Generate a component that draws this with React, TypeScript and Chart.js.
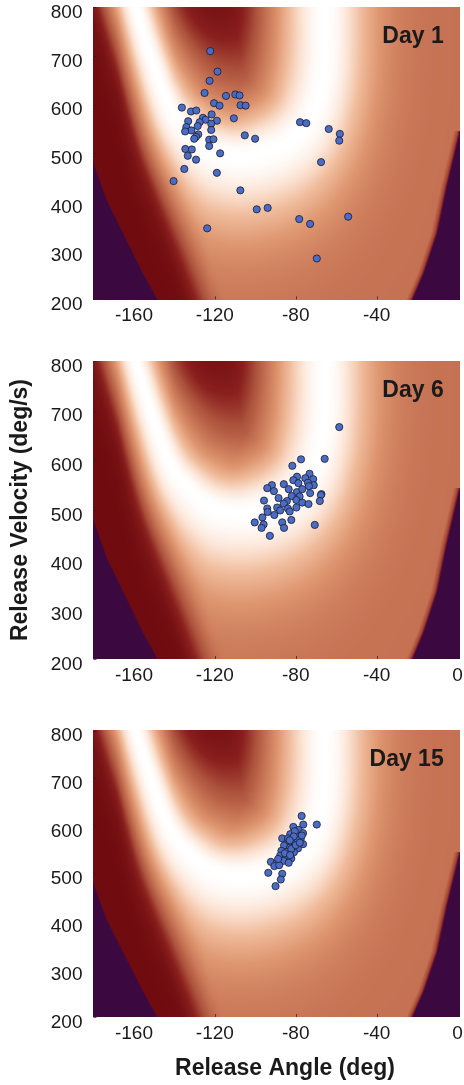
import React, { useEffect, useRef } from "react";
import { Chart, registerables } from "chart.js";
Chart.register(...registerables);

// ---------------- data ----------------
const X_TICKS_DAY1 = [-160, -120, -80, -40];
const X_TICKS = [-160, -120, -80, -40, 0];
const Y_TICKS = [200, 300, 400, 500, 600, 700, 800];

const DAY1_ANGLE = [-122.3, -118.7, -122.6, -125.1, -114.5, -109.9, -107.8, -107.3, -104.8, -120.4,
  -117.7, -136.3, -131.8, -129.2, -121.6, -125.9, -124.6, -119.0, -133.2, -110.6,
  -127.5, -121.8, -134.1, -128.5, -131.6, -134.7, -121.8, -128.2, -129.3, -130.2,
  -122.8, -120.7, -105.2, -100.1, -122.8, -134.6, -131.4, -117.4, -133.4, -129.3,
  -135.1, -119.0, -140.4, -107.4, -99.3, -93.9, -123.8, -77.9, -74.8, -63.7,
  -58.2, -58.5, -67.5, -78.3, -72.9, -54.1, -69.6];
const DAY1_VELOCITY = [710, 668, 649, 624, 618, 621, 619, 599, 598, 603,
  598, 594, 586, 588, 580, 573, 569, 567, 566, 572,
  564, 561, 554, 556, 547, 545, 548, 539, 534, 530,
  528, 529, 537, 530, 515, 509, 508, 500, 495, 487,
  468, 460, 443, 424, 385, 388, 346, 564, 562, 550,
  540, 526, 482, 365, 355, 370, 284];

const DAY6_ANGLE = [-58.5, -65.7, -77.4, -81.7, -73.2, -79.4, -75.3, -71.4, -74.0, -81.2,
  -78.7, -71.1, -73.5, -91.8, -85.9, -94.1, -90.8, -83.5, -79.5, -76.8,
  -67.3, -67.6, -72.9, -88.5, -82.0, -78.1, -79.7, -84.4, -76.8, -85.9,
  -95.7, -73.7, -68.1, -89.2, -83.9, -79.7, -94.1, -87.7, -83.0, -93.9,
  -90.6, -96.5, -100.3, -95.9, -86.7, -82.2, -85.8, -70.6, -92.8, -96.9];
const DAY6_VELOCITY = [667, 603, 602, 589, 573, 567, 564, 562, 555, 560,
  554, 550, 548, 550, 552, 544, 538, 542, 536, 542,
  532, 530, 534, 524, 528, 527, 520, 518, 515, 513,
  519, 512, 518, 505, 503, 505, 503, 499, 497, 496,
  490, 485, 475, 471, 475, 480, 464, 470, 448, 464];

const DAY15_ANGLE = [-77.1, -69.6, -76.3, -81.2, -78.6, -76.4, -82.7, -79.7, -86.7, -77.6,
  -84.1, -80.9, -76.4, -85.8, -82.8, -78.9, -87.1, -84.4, -80.9, -87.7,
  -84.8, -82.2, -86.1, -92.3, -89.3, -83.5, -90.6, -88.2, -93.6, -86.7,
  -87.4, -90.0, -80.5, -83.8, -82.2, -85.4, -88.7, -82.8,
  -79.0, -81.0, -77.0, -80.0, -78.0, -83.0];
const DAY15_VELOCITY = [621, 603, 603, 598, 592, 585, 583, 579, 574, 572,
  567, 564, 562, 559, 555, 553, 548, 546, 545, 538,
  535, 532, 527, 525, 523, 523, 516, 518, 502, 500,
  488, 474, 589, 574, 552, 543, 531, 539,
  570, 578, 580, 560, 565, 570];

// white ridge of the background landscape (angle, velocity)
const RIDGE_ANGLE = [-163, -158.9, -151.5, -142.5, -133, -122, -108, -92, -80, -72, -67.5, -65.5, -65.5];
const RIDGE_VELOCITY = [860, 800, 700, 600, 546, 510, 496, 508, 535, 575, 630, 700, 830];
// darkest spot inside the ridge
const DARK_SPOT_ANGLE = -126;
const DARK_SPOT_VELOCITY = 810;
// purple (out of range) boundaries
const LEFT_EDGE_ANGLE = [-181, -173.5, -163.7, -155.6, -148.3, -140];
const LEFT_EDGE_VELOCITY = [492, 404, 322, 254, 199, 100];
const RIGHT_EDGE_ANGLE = [1, -5.5, -10.3, -16.9, -22.6, -30];
const RIGHT_EDGE_VELOCITY = [545, 432, 336, 254, 199, 100];

const CMAP_POS = [0, 0.15, 0.3, 0.45, 0.65, 0.8, 0.92, 1];
const CMAP_RGB = [[112, 12, 16], [138, 32, 30], [172, 82, 60], [196, 112, 82], [222, 150, 112], [240, 188, 156], [252, 230, 216], [255, 255, 255]];
const PURPLE = [60, 8, 64];

// ---------------- background helpers ----------------
const KX = 2.04; // px per degree
const KY = 0.487; // px per deg/s

const clamp = (t: number) => (t < 0 ? 0 : t > 1 ? 1 : t);
const smooth = (t: number) => t * t * (3 - 2 * t);
const lerp = (a: number, b: number, t: number) => a + (b - a) * t;

function buildRidge(): number[][] {
  const P = RIDGE_ANGLE.map((a, i) => [a * KX, RIDGE_VELOCITY[i] * KY]);
  const out: number[][] = [];
  for (let i = 0; i < P.length - 1; i++) {
    const p0 = P[Math.max(0, i - 1)], p1 = P[i], p2 = P[i + 1], p3 = P[Math.min(P.length - 1, i + 2)];
    for (let k = 0; k < 24; k++) {
      const t = k / 24, t2 = t * t, t3 = t2 * t;
      const f = (j: number) => 0.5 * (2 * p1[j] + (-p0[j] + p2[j]) * t + (2 * p0[j] - 5 * p1[j] + 4 * p2[j] - p3[j]) * t2 + (-p0[j] + 3 * p1[j] - 3 * p2[j] + p3[j]) * t3);
      out.push([f(0), f(1)]);
    }
  }
  out.push(P[P.length - 1]);
  return out;
}
const RIDGE = buildRidge();

function inPoly(x: number, y: number, poly: number[][]) {
  let inside = false;
  for (let i = 0, j = poly.length - 1; i < poly.length; j = i++) {
    const xi = poly[i][0], yi = poly[i][1], xj = poly[j][0], yj = poly[j][1];
    if ((yi > y) !== (yj > y) && x < ((xj - xi) * (y - yi)) / (yj - yi) + xi) inside = !inside;
  }
  return inside;
}

function edgeAt(angles: number[], vels: number[], v: number): number | null {
  if (v > vels[0]) return null;
  for (let i = 0; i < vels.length - 1; i++) {
    if (v <= vels[i] && v >= vels[i + 1]) {
      const t = (vels[i] - v) / (vels[i] - vels[i + 1]);
      return angles[i] + (angles[i + 1] - angles[i]) * t;
    }
  }
  const n = vels.length - 1;
  const t = (vels[n - 1] - v) / (vels[n - 1] - vels[n]);
  return angles[n - 1] + (angles[n] - angles[n - 1]) * t;
}

function cmap(s: number): number[] {
  s = clamp(s);
  for (let i = 0; i < CMAP_POS.length - 1; i++) {
    if (s <= CMAP_POS[i + 1]) {
      const t = (s - CMAP_POS[i]) / (CMAP_POS[i + 1] - CMAP_POS[i]);
      return [0, 1, 2].map((j) => CMAP_RGB[i][j] + (CMAP_RGB[i + 1][j] - CMAP_RGB[i][j]) * t);
    }
  }
  return CMAP_RGB[CMAP_RGB.length - 1];
}

function fieldValue(a: number, v: number): number {
  const X = a * KX, Y = v * KY;
  let best = 1e18, bestA = 1e18;
  for (let i = 0; i < RIDGE.length; i++) {
    const dx = X - RIDGE[i][0], dy = Y - RIDGE[i][1];
    const dxx = dx * dx;
    const d2 = dxx + dy * dy;
    const d2a = dxx + 0.36 * dy * dy;
    if (d2 < best) best = d2;
    if (d2a < bestA) bestA = d2a;
  }
  if (inPoly(X, Y, RIDGE)) {
    const d = Math.sqrt(best);
    const ds = Math.hypot((a - DARK_SPOT_ANGLE) * KX, (v - DARK_SPOT_VELOCITY) * KY);
    const bin = 0.42 * smooth(clamp(ds / 140));
    const wi = lerp(31, 62, clamp((a + 140) / 55));
    return bin + (1 - bin) * Math.exp(-(d / wi) * (d / wi));
  }
  const d = Math.sqrt(bestA);
  const aL = -140 - 0.075 * (v - 200);
  const B = 0.46 * smooth(clamp((a - aL - 2) / 24));
  const wo = lerp(24, 53, clamp((a + 168) / 45));
  return B + (1 - B) * Math.exp(-(d / wo) * (d / wo));
}

function pixelColor(a: number, v: number): number[] {
  const le = edgeAt(LEFT_EDGE_ANGLE, LEFT_EDGE_VELOCITY, v);
  const re = edgeAt(RIGHT_EDGE_ANGLE, RIGHT_EDGE_VELOCITY, v);
  const dl = le === null ? 1e9 : (a - le) * KX;
  const dr = re === null ? 1e9 : (re - a) * KX;
  const m = Math.min(dl, dr);
  if (m < -1) return PURPLE;
  let s = fieldValue(a, v);
  if (m < 6) s *= 0.35 + 0.65 * clamp(m / 6);
  let c = cmap(s);
  if (m < 1) {
    const t = clamp((1 - m) / 2);
    c = c.map((x, j) => x + (PURPLE[j] - x) * t);
  }
  return c;
}

const FONT_FAMILY = '"Liberation Sans", Arial, sans-serif';

const fieldPlugin = {
  id: "field",
  beforeDatasetsDraw(chart: any) {
    const { ctx, chartArea: ca, scales } = chart;
    const L = Math.floor(ca.left), T = Math.floor(ca.top);
    const W = Math.ceil(ca.right) - L, H = Math.ceil(ca.bottom) - T;
    if (!chart._fieldImg) {
      const img = ctx.createImageData(W, H);
      const angles = new Float64Array(W);
      for (let i = 0; i < W; i++) angles[i] = scales.x.getValueForPixel(L + i + 0.5);
      for (let j = 0; j < H; j++) {
        const v = scales.y.getValueForPixel(T + j + 0.5);
        for (let i = 0; i < W; i++) {
          const c = pixelColor(angles[i], v);
          const k = (j * W + i) * 4;
          img.data[k] = c[0]; img.data[k + 1] = c[1]; img.data[k + 2] = c[2]; img.data[k + 3] = 255;
        }
      }
      chart._fieldImg = img;
    }
    ctx.putImageData(chart._fieldImg, L, T);
  },
  afterDatasetsDraw(chart: any) {
    const { ctx, chartArea: ca, scales } = chart;
    const opts = chart.options.plugins.field;
    ctx.save();
    ctx.strokeStyle = "rgba(30,30,30,0.7)";
    ctx.lineWidth = 1;
    ctx.beginPath();
    for (const t of scales.y.ticks) {
      const py = Math.round(scales.y.getPixelForValue(t.value)) + 0.5;
      ctx.moveTo(ca.left, py); ctx.lineTo(ca.left + 3, py);
    }
    for (const t of scales.x.ticks) {
      const px = Math.round(scales.x.getPixelForValue(t.value)) + 0.5;
      ctx.moveTo(px, ca.bottom); ctx.lineTo(px, ca.bottom - 3);
    }
    ctx.stroke();
    ctx.font = `bold 23px ${FONT_FAMILY}`;
    ctx.fillStyle = "#1a1a1a";
    ctx.textAlign = "right";
    ctx.textBaseline = "alphabetic";
    ctx.fillText(opts.label, ca.right - 15.5, ca.top + 35.5);
    if (opts.xTitle) {
      ctx.textAlign = "center";
      ctx.fillText(opts.xTitle, 285, ca.bottom + 58);
    }
    ctx.restore();
  },
};

const TICK_FONT = { family: FONT_FAMILY, size: 19 };
const TITLE_FONT = { family: FONT_FAMILY, size: 23, weight: "bold" as const };

type PanelProps = {
  angles: number[];
  velocities: number[];
  label: string;
  top: number;
  height: number;
  padTop: number;
  xHeight: number;
  xTicks: number[];
  yTitle: boolean;
  xTitle: string;
};

function Panel(p: PanelProps) {
  const ref = useRef<HTMLCanvasElement | null>(null);
  useEffect(() => {
    if (!ref.current) return;
    const chart = new Chart(ref.current, {
      type: "scatter",
      data: {
        datasets: [
          {
            data: p.angles.map((a, i) => ({ x: a, y: p.velocities[i] })),
            pointRadius: 3.6,
            pointBackgroundColor: "#4a6cc4",
            pointBorderColor: "#1c1c2c",
            pointBorderWidth: 0.8,
            showLine: false,
          },
        ],
      },
      options: {
        responsive: false,
        maintainAspectRatio: false,
        devicePixelRatio: 1,
        animation: false,
        events: [],
        layout: { padding: { top: p.padTop, right: 1.3, left: 0, bottom: 0 } },
        plugins: {
          legend: { display: false },
          tooltip: { enabled: false },
          // @ts-ignore
          field: { label: p.label, xTitle: p.xTitle },
        },
        scales: {
          x: {
            type: "linear",
            min: -180,
            max: 0.8,
            grid: { display: false, drawTicks: false },
            border: { display: false },
            afterBuildTicks: (s: any) => { s.ticks = p.xTicks.map((v) => ({ value: v })); },
            afterFit: (s: any) => { s.height = p.xHeight; s.paddingLeft = 0; s.paddingRight = 0; },
            ticks: { font: TICK_FONT, color: "#1a1a1a", padding: 5, maxRotation: 0, autoSkip: false },
          },
          y: {
            type: "linear",
            min: 200,
            max: 800,
            grid: { display: false, drawTicks: false },
            border: { display: false },
            afterBuildTicks: (s: any) => { s.ticks = Y_TICKS.map((v) => ({ value: v })); },
            afterFit: (s: any) => { s.width = 93.5; s.paddingTop = 0; s.paddingBottom = 0; },
            ticks: { font: TICK_FONT, color: "#1a1a1a", padding: 11, autoSkip: false, labelOffset: 5.5 },
            title: p.yTitle
              ? { display: true, text: "Release Velocity (deg/s)", font: TITLE_FONT, color: "#1a1a1a", padding: { top: 6.5, bottom: 0 } }
              : { display: false },
          },
        },
      },
      plugins: [fieldPlugin],
    } as any);
    return () => chart.destroy();
  }, []);
  return (
    <canvas
      ref={ref}
      width={464}
      height={p.height}
      style={{ position: "absolute", left: 0, top: p.top, width: 464, height: p.height }}
    />
  );
}

export default function App() {
  return (
    <div style={{ position: "absolute", left: 0, top: 0, width: 464, height: 1085, background: "#fff", overflow: "hidden" }}>
      <Panel angles={DAY1_ANGLE} velocities={DAY1_VELOCITY} label="Day 1" top={0} height={340} padTop={7.3} xHeight={40.6} xTicks={X_TICKS_DAY1} yTitle={false} xTitle="" />
      <Panel angles={DAY6_ANGLE} velocities={DAY6_VELOCITY} label="Day 6" top={340} height={350} padTop={21} xHeight={31} xTicks={X_TICKS} yTitle={true} xTitle="" />
      <Panel angles={DAY15_ANGLE} velocities={DAY15_VELOCITY} label="Day 15" top={690} height={395} padTop={40.5} xHeight={68} xTicks={X_TICKS} yTitle={false} xTitle="Release Angle (deg)" />
    </div>
  );
}
